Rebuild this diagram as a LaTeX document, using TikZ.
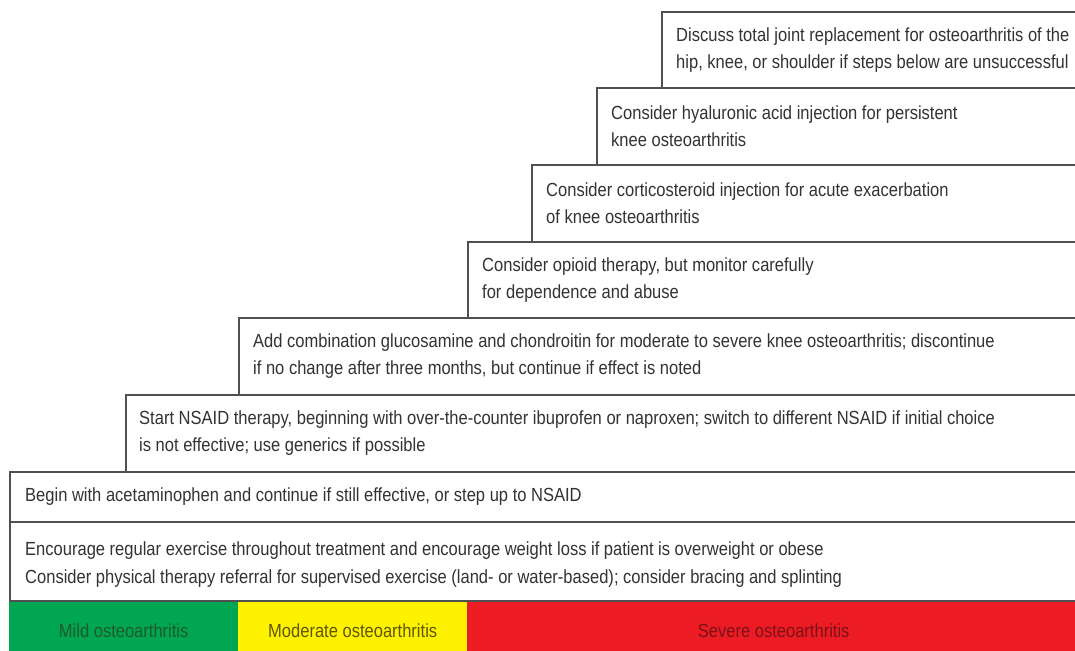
\documentclass[tikz,border=0pt]{standalone}
\usepackage{fontspec}
\setmainfont{Liberation Sans}[FakeStretch=0.87]
\definecolor{lineg}{HTML}{505050}
\definecolor{textg}{HTML}{333333}
\definecolor{bgreen}{HTML}{00A651}
\definecolor{byellow}{HTML}{FFF200}
\definecolor{bred}{HTML}{ED1C24}
\definecolor{tgreen}{HTML}{1D5A2E}
\definecolor{tyellow}{HTML}{5E5500}
\definecolor{tred}{HTML}{7A1218}
\begin{document}
\begin{tikzpicture}[x=1pt,y=-1pt,
  stepbox/.style={draw=lineg, line width=1.7pt, fill=white, rectangle, inner sep=0pt, anchor=north west},
  txt/.style={anchor=west, align=left, inner sep=0pt, text=textg, font=\fontsize{19}{27}\selectfont},
  band/.style={rectangle, inner sep=0pt, anchor=north west, minimum height=62pt, font=\fontsize{19}{27}\selectfont}]
\useasboundingbox (0,0) rectangle (1075,650);
% severity bands
\node[band, fill=bgreen, text=tgreen, minimum width=229pt] (mild) at (9,600) {Mild osteoarthritis};
\node[band, fill=byellow, text=tyellow, minimum width=229pt] (moderate) at (238,600) {Moderate osteoarthritis};
\node[band, fill=bred, text=tred, minimum width=613pt] (severe) at (467,600) {Severe osteoarthritis};
% steps
\node[stepbox, minimum width=419pt, minimum height=76pt] (s7) at (661,11) {};
\node[stepbox, minimum width=484pt, minimum height=77pt] (s6) at (596,87) {};
\node[stepbox, minimum width=549pt, minimum height=77pt] (s5) at (531,164) {};
\node[stepbox, minimum width=613pt, minimum height=76pt] (s4) at (467,241) {};
\node[stepbox, minimum width=842pt, minimum height=77pt] (s3) at (238,317) {};
\node[stepbox, minimum width=955pt, minimum height=77pt] (s2) at (125,394) {};
\node[stepbox, minimum width=1071pt, minimum height=50pt] (s1) at (9,471) {};
\node[stepbox, minimum width=1071pt, minimum height=79pt] (s0) at (9,521) {};
% texts
\node[txt] (t7) at ([xshift=15pt]s7.west) {Discuss total joint replacement for osteoarthritis of the\\hip, knee, or shoulder if steps below are unsuccessful};
\node[txt] (t6) at ([xshift=15pt]s6.west) {Consider hyaluronic acid injection for persistent\\knee osteoarthritis};
\node[txt] (t5) at ([xshift=15pt]s5.west) {Consider corticosteroid injection for acute exacerbation\\of knee osteoarthritis};
\node[txt] (t4) at ([xshift=15pt]s4.west) {Consider opioid therapy, but monitor carefully\\for dependence and abuse};
\node[txt] (t3) at ([xshift=15pt]s3.west) {Add combination glucosamine and chondroitin for moderate to severe knee osteoarthritis; discontinue\\if no change after three months, but continue if effect is noted};
\node[txt] (t2) at ([xshift=14pt]s2.west) {Start NSAID therapy, beginning with over-the-counter ibuprofen or naproxen; switch to different NSAID if initial choice\\is not effective; use generics if possible};
\node[txt] (t1) at ([xshift=16pt]s1.west) {Begin with acetaminophen and continue if still effective, or step up to NSAID};
\node[txt, font=\fontsize{19}{28.5}\selectfont] (t0) at ([xshift=16pt,yshift=-3pt]s0.west) {Encourage regular exercise throughout treatment and encourage weight loss if patient is overweight or obese\\Consider physical therapy referral for supervised exercise (land- or water-based); consider bracing and splinting};
\end{tikzpicture}
\end{document}
